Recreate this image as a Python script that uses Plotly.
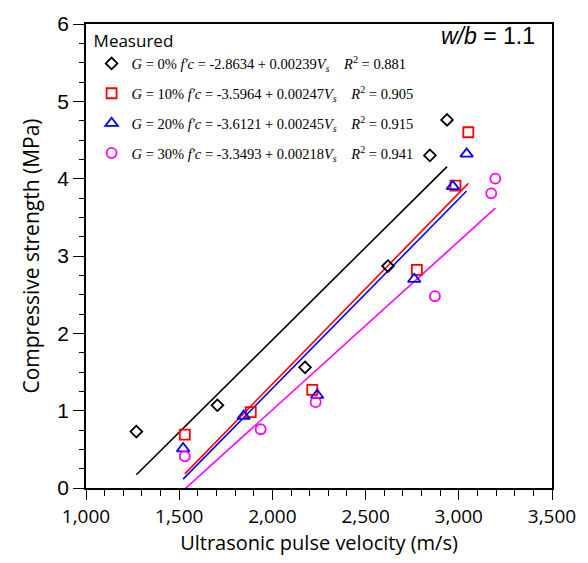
import plotly.graph_objects as go

# ---- data ----
groups = ["G = 0%", "G = 10%", "G = 20%", "G = 30%"]
vs_0 = [1270, 1705, 2175, 2620, 2845, 2937]
fc_0 = [0.73, 1.07, 1.56, 2.87, 4.30, 4.76]
vs_10 = [1530, 1884, 2214, 2775, 2982, 3051]
fc_10 = [0.69, 0.98, 1.27, 2.82, 3.91, 4.60]
vs_20 = [1521, 1846, 2240, 2761, 2968, 3042]
fc_20 = [0.51, 0.93, 1.20, 2.70, 3.90, 4.32]
vs_30 = [1530, 1937, 2232, 2872, 3174, 3196]
fc_30 = [0.41, 0.76, 1.11, 2.48, 3.81, 4.00]
intercepts = [-2.8634, -3.5964, -3.6121, -3.3493]
slopes = [0.00239, 0.00247, 0.00245, 0.00218]
r2 = [0.881, 0.905, 0.915, 0.941]
x_ticks = [1000, 1500, 2000, 2500, 3000, 3500]
y_ticks = [0, 1, 2, 3, 4, 5, 6]

colors = ["#000000", "#ff0000", "#0000ff", "#ff00ff"]
symbols = ["diamond-open", "square-open", "triangle-up-open", "circle-open"]
sizes = [9, 10, 11, 10]
xs = [vs_0, vs_10, vs_20, vs_30]
ys = [fc_0, fc_10, fc_20, fc_30]

fig = go.Figure()

for i in range(4):
    x0, x1 = min(xs[i]), max(xs[i])
    fig.add_trace(go.Scatter(
        x=[x0, x1],
        y=[intercepts[i] + slopes[i] * x0, intercepts[i] + slopes[i] * x1],
        mode="lines", line=dict(color=colors[i], width=1.6),
        showlegend=False, hoverinfo="skip"))

for i in range(4):
    g = groups[i].replace("G", "<i>G</i>")
    name = (f"{g} <i>f'c</i> = {intercepts[i]:.4f} + {slopes[i]:.5f}<i>V<sub>s</sub></i>"
            f"&nbsp;&nbsp;&nbsp;&nbsp;<i>R</i><sup>2</sup> = {r2[i]:.3f}")
    fig.add_trace(go.Scatter(
        x=xs[i], y=ys[i], mode="markers", name=name, legendgroup=f"g{i}",
        marker=dict(symbol=symbols[i], size=sizes[i], color=colors[i],
                    line=dict(color=colors[i], width=1.8))))

fig.add_annotation(
    xref="paper", yref="paper", x=0.968, y=0.974, xanchor="right", yanchor="middle",
    text="<i>w/b</i> = 1.1", showarrow=False,
    font=dict(family="Liberation Sans, Arial", size=23, color="black"))

axis_common = dict(showline=True, linecolor="black", linewidth=1.5, mirror=True,
                   ticks="outside", tickcolor="black", tickwidth=1.2,
                   showgrid=False, zeroline=False)

fig.update_layout(
    width=588, height=563,
    margin=dict(l=86, r=28, t=15, b=75),
    plot_bgcolor="white", paper_bgcolor="white",
    xaxis=dict(range=[1000, 3500], tickvals=x_ticks, tickformat=",d", ticklen=10,
               minor=dict(dtick=100, ticklen=6, ticks="outside", tickcolor="black"),
               tickfont=dict(family="Open Sans", size=19, color="black"),
               title=dict(text="Ultrasonic pulse velocity (m/s)", standoff=4,
                          font=dict(family="Open Sans", size=20, color="black")),
               **axis_common),
    yaxis=dict(range=[0, 6], tickvals=y_ticks, ticklen=11,
               minor=dict(dtick=0.25, ticklen=5, ticks="outside", tickcolor="black"),
               tickfont=dict(family="Liberation Sans, Arial", size=21, color="black"),
               title=dict(text="Compressive strength (MPa)", standoff=12,
                          font=dict(family="Open Sans", size=21, color="black")),
               **axis_common),
    legend=dict(x=0.012, y=0.997, xanchor="left", yanchor="top",
                bgcolor="rgba(0,0,0,0)", tracegroupgap=8, itemwidth=30,
                title=dict(text="Measured", font=dict(family="Open Sans", size=17, color="black")),
                font=dict(family="Liberation Serif, Times New Roman", size=14.5, color="black")),
)

fig.write_html("out.html")
